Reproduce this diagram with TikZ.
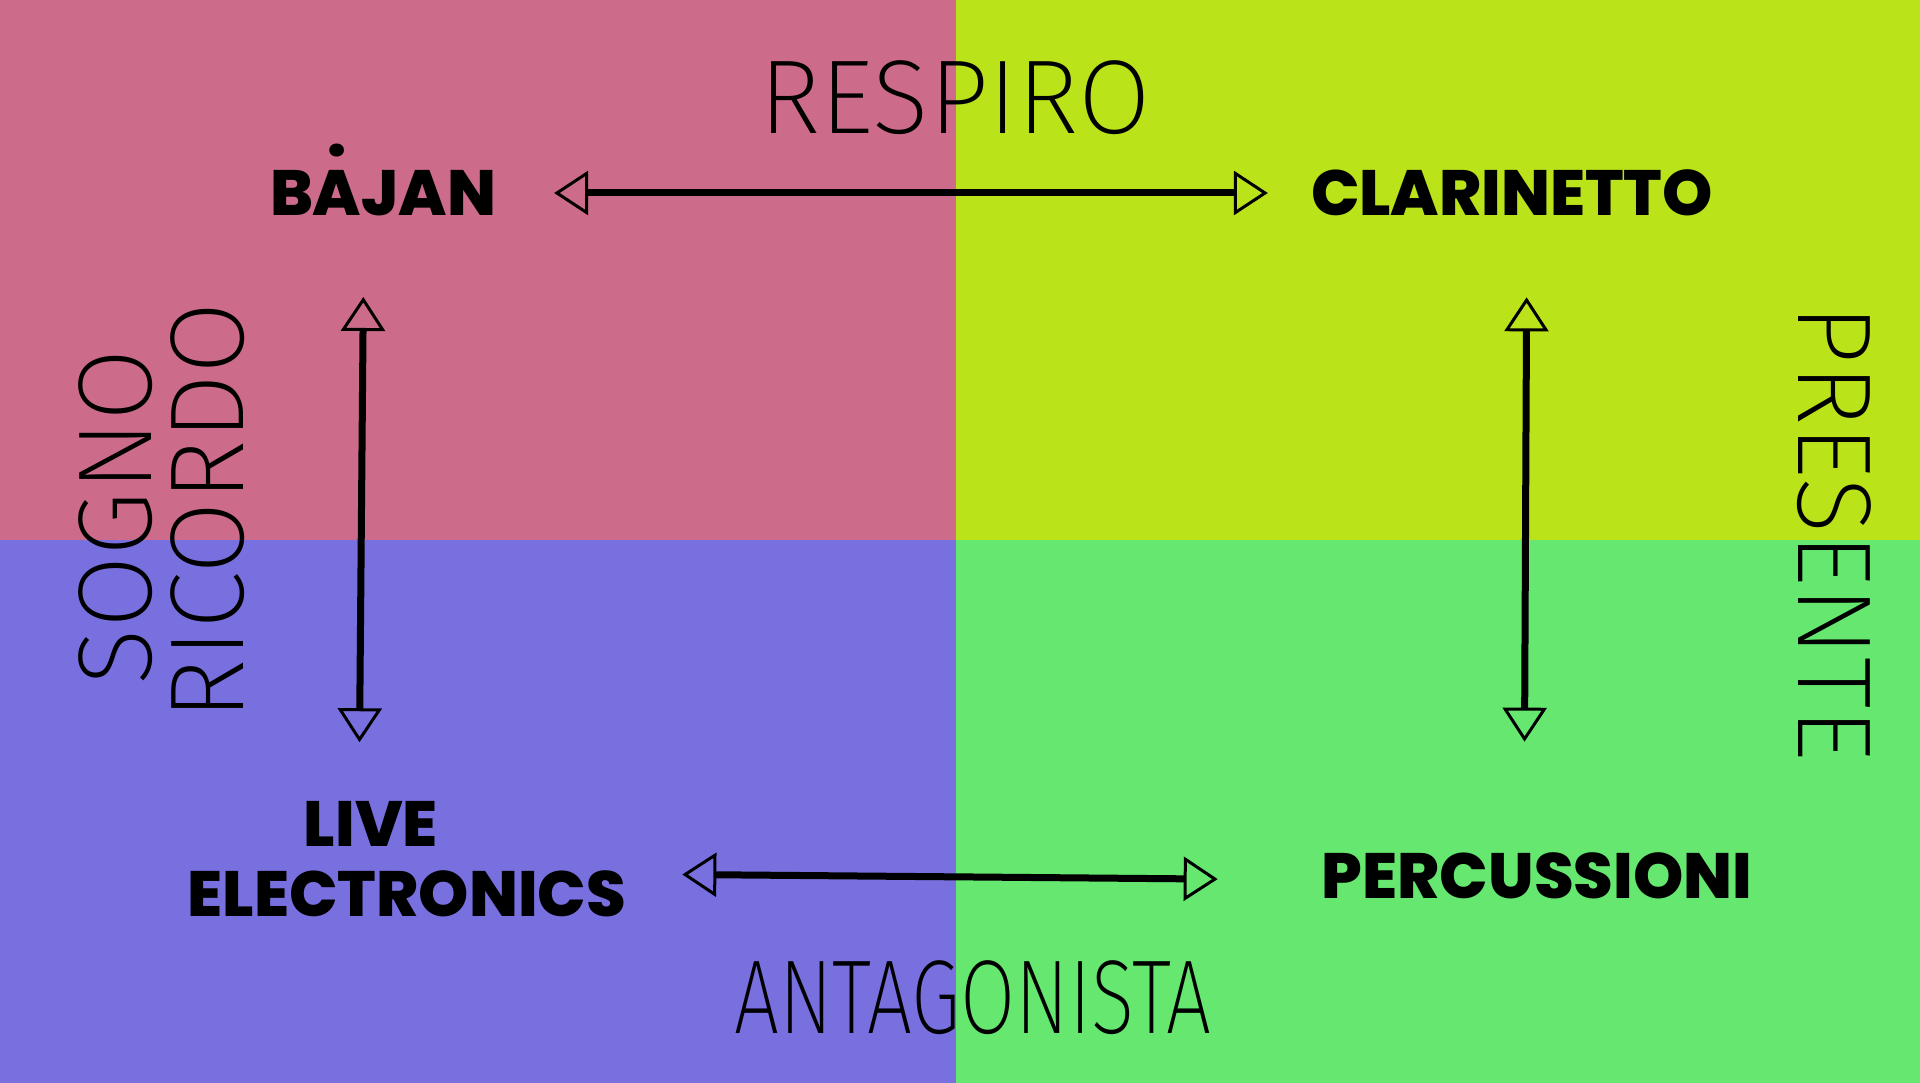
\documentclass[tikz,border=0pt]{standalone}
\usepackage{fontspec}
\usepackage{graphicx}
\setmainfont{Poppins}[BoldFont=Poppins ExtraBold]
\newfontfamily\thinfont{Fira Sans ExtraLight}
\usetikzlibrary{arrows.meta}

\definecolor{bajanpink}{HTML}{CC6C8A}
\definecolor{clarlime}{HTML}{BAE31A}
\definecolor{livepurple}{HTML}{7970E0}
\definecolor{percgreen}{HTML}{66E870}

% A with a round dot above it
\newcommand{\dotA}{\ooalign{A\cr\hidewidth\raisebox{0.92em}{.}\hidewidth\cr}}

\begin{document}
\begin{tikzpicture}[x=1pt,y=-1pt,
    strumento/.style={font=\fontsize{64}{70}\selectfont\bfseries, inner sep=0pt},
    ruolo/.style={font=\thinfont\fontsize{105}{110}\selectfont, inner sep=0pt},
    punta/.tip={Triangle[open,length=34pt,width=44pt,line width=3pt]},
    legame/.style={line width=7pt, punta-punta}]

        % ============================================
        % BACKGROUND – FOUR QUADRANTS
        % ============================================
        \fill[bajanpink]  (0,0)     rectangle (956,540);
        \fill[clarlime]   (956,0)   rectangle (1920,540);
        \fill[livepurple] (0,540)   rectangle (956,1083);
        \fill[percgreen]  (956,540) rectangle (1920,1083);

        % ============================================
        % INSTRUMENTS
        % ============================================
        \node[strumento] (bajan)       at (383,193)  {B\dotA JAN};
        \node[strumento] (clarinetto)  at (1512,193) {CLARINETTO};
        \node[strumento] (live)        at (371,824)  {LIVE};
        \node[strumento] (electronics) at (407,894)  {ELECTRONICS};
        \node[strumento] (percussioni) at (1537,876) {PERCUSSIONI};

        % ============================================
        % ROLES
        % ============================================
        \node[ruolo] (respiro)     at (955,98)  {RESPIRO};
        \node[ruolo] (antagonista) at (973,998) {\scalebox{0.76}[1]{ANTAGONISTA}};
        \node[ruolo, rotate=90]  (sogno)    at (116,517) {SOGNO};
        \node[ruolo, rotate=90]  (ricordo)  at (208,511) {RICORDO};
        \node[ruolo, rotate=-90] (presente) at (1834,533) {PRESENTE};

        % ============================================
        % ARROWS
        % ============================================
        \draw[legame, shorten <=58pt, shorten >=43pt] (bajan.east) -- (clarinetto.west);
        \draw[legame, shorten <=56pt, shorten >=104pt]
            ([yshift=20pt]electronics.east) -- ([yshift=-4pt]percussioni.west);
        \draw[legame, shorten <=81pt, shorten >=59pt]
            ([xshift=-19pt]bajan.south) -- ([xshift=-12pt]live.north);
        \draw[legame, shorten <=81pt, shorten >=111pt]
            ([xshift=15pt]clarinetto.south) -- ([xshift=-13pt]percussioni.north);

\end{tikzpicture}
\end{document}
